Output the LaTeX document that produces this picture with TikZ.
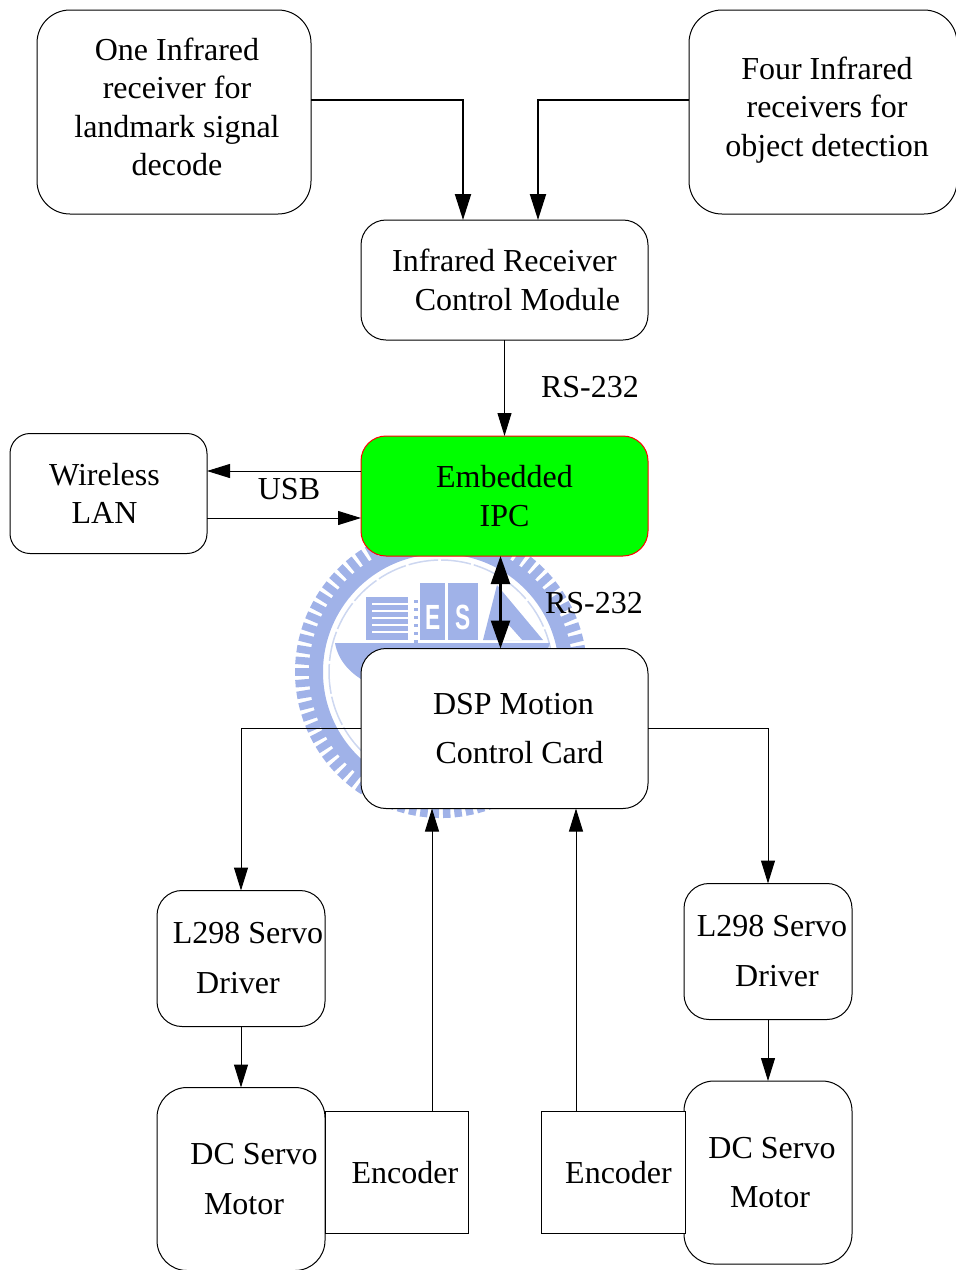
\documentclass[tikz,border=0pt]{standalone}
\usepackage{fontspec}
\setmainfont{Liberation Serif}
\setsansfont{Liberation Sans}
\usetikzlibrary{arrows.meta}
\definecolor{wmblue}{RGB}{160,178,232}
\definecolor{wmpale}{RGB}{205,215,240}
\tikzset{
  blockbox/.style = {draw, fill = white, line width = 1pt, rounded corners = 25pt, inner sep = 0pt, outer sep = 0pt,
    align = center, font = \fontsize{32}{38.5}\selectfont},
  plainlabel/.style = {inner sep = 0pt, font = \fontsize{32}{38.5}\selectfont},
  thinarrow/.style = {-{Triangle[length = 23pt, width = 14pt]}, line width = 1pt},
  midarrow/.style = {-{Triangle[length = 26pt, width = 16pt]}, line width = 2pt},
  boldarrow/.style = {{Triangle[length = 28pt, width = 19pt]}-{Triangle[length = 28pt, width = 19pt]}, line width = 2.5pt},
  wmletter/.style = {white, inner sep = 0pt, xscale = .65, font = \bfseries\sffamily\fontsize{35}{35}\selectfont}
}
\begin{document}
\begin{tikzpicture}[x = 1pt, y = -1pt]
  \useasboundingbox (0, 0) rectangle (956, 1270);
  % watermark behind the blocks
  \foreach \i in {1,...,78}
    \draw[wmblue, line width = 7.5pt] (441, 672) ++(\i*4.6154:130) -- ++(\i*4.6154:16);
  \draw[wmblue, line width = 14pt] (441, 672) circle [radius = 125];
  \draw[wmpale, line width = 1.5pt, dash pattern = on 30pt off 3pt] (441, 672) circle [radius = 112];
  \fill[wmblue] (335, 643) .. controls (338, 660) and (350, 675) .. (372, 685) --
    (510, 685) .. controls (530, 675) and (545, 660) .. (550, 643) -- cycle;
  \fill[wmblue] (366, 597) rectangle (408, 640);
  \foreach \y in {604, 611, 618, 625, 632}
    \draw[white, line width = 2.5pt] (372, \y) -- (408, \y);
  \foreach \y in {600, 608, ..., 640}
    \fill[wmblue] (414, \y) rectangle (418, \y + 3);
  \fill[wmblue] (420, 583) rectangle (445, 640);
  \fill[wmblue] (448, 583) rectangle (478, 640);
  \fill[wmblue] (483, 640) -- (497, 585) -- (543, 640) -- cycle;
  \fill[white] (500, 640) -- (506, 622) -- (522, 640) -- cycle;
  \node[wmletter] (wmE) at (433, 617) {E};
  \node[wmletter] (wmS) at (463, 617) {S};
  % blocks
  \node[blockbox, rounded corners = 33pt, minimum width = 274pt, minimum height = 204pt] (landmark) at (174, 112)
    {\hspace*{6pt}One Infrared\\\hspace*{6pt}receiver for\\\hspace*{6pt}landmark signal\\\hspace*{6pt}decode\\[-27.5pt]{}};
  \node[blockbox, rounded corners = 33pt, minimum width = 268pt, minimum height = 204pt] (objdetect) at (823, 112)
    {\hspace*{8pt}Four Infrared\\\hspace*{8pt}receivers for\\\hspace*{8pt}object detection\\[-27.5pt]{}};
  \node[blockbox, minimum width = 287pt, minimum height = 120pt] (irmodule) at (504.5, 280)
    {Infrared Receiver\\\hspace*{26pt}Control Module};
  \node[blockbox, draw = red, fill = green, minimum width = 287pt, minimum height = 120pt] (ipc) at (504.5, 496)
    {Embedded\\IPC};
  \node[blockbox, rounded corners = 20pt, minimum width = 197pt, minimum height = 120pt] (wlan) at (108.5, 493.5)
    {Wireless\hspace*{8pt}\\LAN\hspace*{8pt}};
  \node[blockbox, minimum width = 287pt, minimum height = 160pt] (dsp) at (504.5, 728.5)
    {\hspace*{18pt}DSP Motion\\[10.5pt]\hspace*{30pt}Control Card};
  \node[blockbox, minimum width = 168pt, minimum height = 136pt] (driverl) at (241, 958.5)
    {\hspace*{14pt}L298 Servo\\[11.5pt]Driver\hspace*{6pt}};
  \node[blockbox, minimum width = 168pt, minimum height = 136pt] (driverr) at (768, 951.5)
    {\hspace*{8pt}L298 Servo\\[11.5pt]\hspace*{18pt}Driver};
  \node[blockbox, rounded corners = 30pt, minimum width = 168pt, minimum height = 183pt] (motorl) at (241, 1179)
    {\hspace*{26pt}DC Servo\\[11.5pt]\hspace*{6pt}Motor};
  \node[blockbox, rounded corners = 30pt, minimum width = 168pt, minimum height = 183pt] (motorr) at (768, 1172.5)
    {\hspace*{8pt}DC Servo\\[10pt]\hspace*{4pt}Motor};
  \node[blockbox, rounded corners = 0pt, minimum width = 143pt, minimum height = 122pt] (encl) at (396.5, 1172.5)
    {\hspace*{17pt}Encoder};
  \node[blockbox, rounded corners = 0pt, minimum width = 144pt, minimum height = 122pt] (encr) at (613, 1172.5)
    {\hspace*{11pt}Encoder};
  % bus labels
  \node[plainlabel] (rsupper) at (590, 387) {RS-232};
  \node[plainlabel] (rslower) at (594, 603) {RS-232};
  \node[plainlabel] (usb) at (289, 489) {USB};
  % connectors
  \draw[midarrow] ([yshift = 12]landmark.east) -| ([xshift = -41.5]irmodule.north);
  \draw[midarrow] ([yshift = 12]objdetect.west) -| ([xshift = 33.5]irmodule.north);
  \draw[thinarrow] (irmodule) -- (ipc);
  \draw[thinarrow] ([yshift = 25]ipc.west) -- ([yshift = 22.5]wlan.east);
  \draw[thinarrow] ([yshift = -24.5]wlan.east) -- ([yshift = -22]ipc.west);
  \draw[boldarrow] ([xshift = -4]ipc.south) -- ([xshift = -4]dsp.north);
  \draw[thinarrow] (dsp.west) -| (driverl.north);
  \draw[thinarrow] (dsp.east) -| (driverr.north);
  \draw[thinarrow] (driverl) -- (motorl);
  \draw[thinarrow] (driverr) -- (motorr);
  \draw[thinarrow] ([xshift = 35.5]encl.north) -- ([xshift = 35.5]encl.north |- dsp.south);
  \draw[thinarrow] ([xshift = -37]encr.north) -- ([xshift = -37]encr.north |- dsp.south);
\end{tikzpicture}
\end{document}
